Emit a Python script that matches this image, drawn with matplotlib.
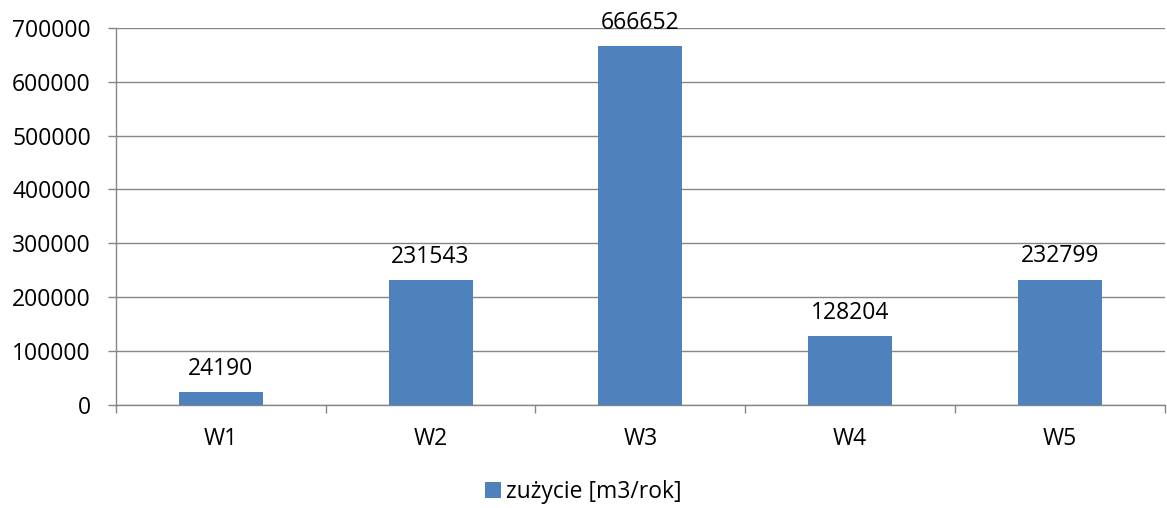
import matplotlib
matplotlib.use("Agg")
import matplotlib.pyplot as plt
import numpy as np

categories = ["W1", "W2", "W3", "W4", "W5"]
values = [24190, 231543, 666652, 128204, 232799]
series_name = "zużycie [m3/rok]"

plt.rcParams['font.family'] = ['Open Sans', 'DejaVu Sans']
bar_color = "#4F81BD"
grid_color = "#868686"
fs = 16.5

fig = plt.figure(figsize=(11.67, 5.08), dpi=100)
ax = fig.add_axes([0.0994, 0.203, 0.8986, 0.742])

x = np.arange(len(categories))
bars = ax.bar(x, values, width=0.4, color=bar_color, label=series_name, zorder=3)

for xi, v in zip(x, values):
    ax.annotate(str(v), (xi, v), xytext=(0, 8), textcoords="offset points",
                ha="center", va="bottom", fontsize=fs)

ax.set_xlim(-0.5, len(categories) - 0.5)
ax.set_ylim(0, 700000)
ax.set_yticks(np.arange(0, 700001, 100000))
ax.yaxis.grid(True, color=grid_color, linewidth=1, zorder=0)

# category boundaries as major ticks, labels on minor ticks at centers
ax.set_xticks(np.arange(-0.5, len(categories) + 0.5, 1))
ax.set_xticklabels([])
ax.set_xticks(x, minor=True)
ax.set_xticklabels(categories, minor=True)
ax.tick_params(axis="x", which="major", length=6, color=grid_color, width=1)
ax.tick_params(axis="x", which="minor", length=0, pad=16, labelsize=fs)
ax.tick_params(axis="y", length=6, color=grid_color, width=1, pad=12, labelsize=fs)

for s in ["top", "right"]:
    ax.spines[s].set_visible(False)
for s in ["left", "bottom"]:
    ax.spines[s].set_color(grid_color)
    ax.spines[s].set_linewidth(1)

fig.legend(handles=[bars], labels=[series_name], loc="lower center",
           bbox_to_anchor=(0.5, -0.02), frameon=False, fontsize=fs,
           handlelength=0.7, handleheight=0.7, handletextpad=0.2,
           borderaxespad=0.2)

fig.savefig("out.png", dpi=100)
